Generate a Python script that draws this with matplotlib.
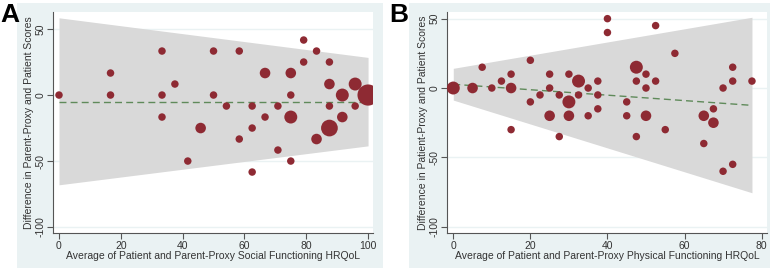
import matplotlib
matplotlib.use("Agg")
import matplotlib.pyplot as plt
import numpy as np

plt.rcParams['font.family'] = ['Liberation Sans', 'DejaVu Sans']

# Panel A: Social functioning
a_avg = [0, 16.67, 16.67, 33.33, 37.5, 33.33, 33.33, 45.83, 41.67, 50, 50, 54.17,
         58.33, 58.33, 62.5, 62.5, 62.5, 66.67, 66.67, 70.83, 70.83, 75, 75, 75, 75,
         79.17, 79.17, 83.33, 83.33, 87.5, 87.5, 87.5, 87.5, 91.67, 91.67, 95.83,
         95.83, 100]
a_diff = [0, 16.67, 0, 33.33, 8.33, 0, -16.67, -25, -50, 33.33, 0, -8.33,
          33.33, -33.33, -8.33, -25, -58.33, 16.67, -16.67, -8.33, -41.67, 16.67, 0, -16.67, -50,
          41.67, 25, 33.33, -33.33, 25, 8.33, -8.33, -25, 0, -16.67, 8.33,
          -8.33, 0]
a_n = [1, 1, 1, 1, 1, 1, 1, 2, 1, 1, 1, 1,
       1, 1, 1, 1, 1, 2, 1, 1, 1, 2, 1, 3, 1,
       1, 1, 1, 2, 1, 2, 1, 5, 3, 2, 3,
       1, 8]
a_mean_line = [-5, -5]
a_upper = [58.5, 28.5]
a_lower = [-68, -38.5]
a_range = [0, 100]

# Panel B: Physical functioning
b_avg = [0, 5, 7.5, 10, 12.5, 15, 15, 15, 20, 20, 22.5, 25, 25, 25, 27.5, 27.5,
         30, 30, 30, 32.5, 32.5, 35, 35, 37.5, 37.5, 37.5, 40, 40, 45, 45, 47.5, 47.5,
         47.5, 50, 50, 50, 52.5, 52.5, 55, 57.5, 65, 65, 67.5, 67.5, 70, 70, 72.5,
         72.5, 72.5, 77.5]
b_diff = [0, 0, 15, 0, 5, 10, 0, -30, 20, -10, -5, 10, 0, -20, -5, -35,
          10, -10, -20, 5, -5, 0, -20, 5, -5, -15, 50, 40, -10, -20, 15, 5,
          -35, 10, 0, -20, 45, 5, -30, 25, -20, -40, -15, -25, 0, -60, 15,
          5, -55, 5]
b_n = [3, 2, 1, 1, 1, 1, 2, 1, 1, 1, 1, 1, 1, 2, 1, 1,
       1, 3, 2, 3, 1, 1, 1, 1, 1, 1, 1, 1, 1, 1, 3, 1,
       1, 1, 1, 2, 1, 1, 1, 1, 2, 1, 1, 2, 1, 1, 1,
       1, 1, 1]
b_mean_line = [2.7, -12.5]
b_upper = [14.2, 51]
b_lower = [-8.7, -75.5]
b_range = [0, 77.5]

W, H = 778, 270
fig = plt.figure(figsize=(W / 100, H / 100), dpi=100)
fig.patch.set_facecolor('white')

BG = '#eaf2f3'
MARK = '#8e2a33'
TXT = '#333333'


def fr(x0, y0, x1, y1):
    return [x0 / W, (H - y1) / H, (x1 - x0) / W, (y1 - y0) / H]


def panel(bg, axrect, xlim, ylim, xticks, avg, diff, n, xr, mean, up, lo, xlabel, ylabel, letter, lx):
    bga = fig.add_axes(fr(*bg), zorder=-5)
    bga.set_facecolor(BG)
    bga.set_xticks([])
    bga.set_yticks([])
    for s in bga.spines.values():
        s.set_visible(False)
    ax = fig.add_axes(fr(*axrect), zorder=1)
    ax.set_facecolor('white')
    ax.fill_between(xr, lo, up, color='#d9d9d9', linewidth=0, zorder=1)
    ax.plot(xr, mean, color='#5f8a5a', lw=1.0, dashes=(5, 3), zorder=3)
    ax.scatter(avg, diff, s=np.array(n) * 29, color=MARK, linewidths=0, zorder=4)
    ax.set_xlim(*xlim)
    ax.set_ylim(*ylim)
    ax.set_xticks(xticks)
    ax.set_yticks([-100, -50, 0, 50])
    ax.set_yticklabels(['-100', '-50', '0', '50'], rotation=90, va='center')
    ax.grid(axis='y', color=BG, lw=1.0, zorder=0)
    ax.set_axisbelow(True)
    for s in ['top', 'right']:
        ax.spines[s].set_visible(False)
    for s in ['left', 'bottom']:
        ax.spines[s].set_color('#555555')
        ax.spines[s].set_linewidth(0.8)
    ax.tick_params(colors='#555555', labelcolor=TXT, labelsize=7.5, length=4, width=0.8)
    ax.tick_params(axis='y', pad=1.5)
    ax.tick_params(axis='x', pad=1.5)
    ax.set_xlabel(xlabel, fontsize=7.5, color=TXT, labelpad=0)
    ax.set_ylabel(ylabel, fontsize=7.5, color=TXT, labelpad=1)
    fig.text(lx / W, (H - 3) / H, letter, fontsize=19, fontweight='bold', va='top', ha='left',
             color='black', zorder=10)
    return ax


panel((17, 3, 383, 268), (53, 12, 373, 233), (-1.94, 101.6), (-104.5, 62.9), [0, 20, 40, 60, 80, 100],
      a_avg, a_diff, a_n, a_range, a_mean_line, a_upper, a_lower,
      'Average of Patient and Parent-Proxy Social Functioning HRQoL',
      'Difference in Parent-Proxy and Patient Scores', 'A', 0)

panel((409, 3, 770, 268), (447, 12, 767, 233), (-1.63, 81.4), (-104.5, 54.8), [0, 20, 40, 60, 80],
      b_avg, b_diff, b_n, b_range, b_mean_line, b_upper, b_lower,
      'Average of Patient and Parent-Proxy Physical Functioning HRQoL',
      'Difference in Patient-Proxy and Patient Scores', 'B', 389)

fig.savefig('out.png', dpi=100, facecolor='white')
